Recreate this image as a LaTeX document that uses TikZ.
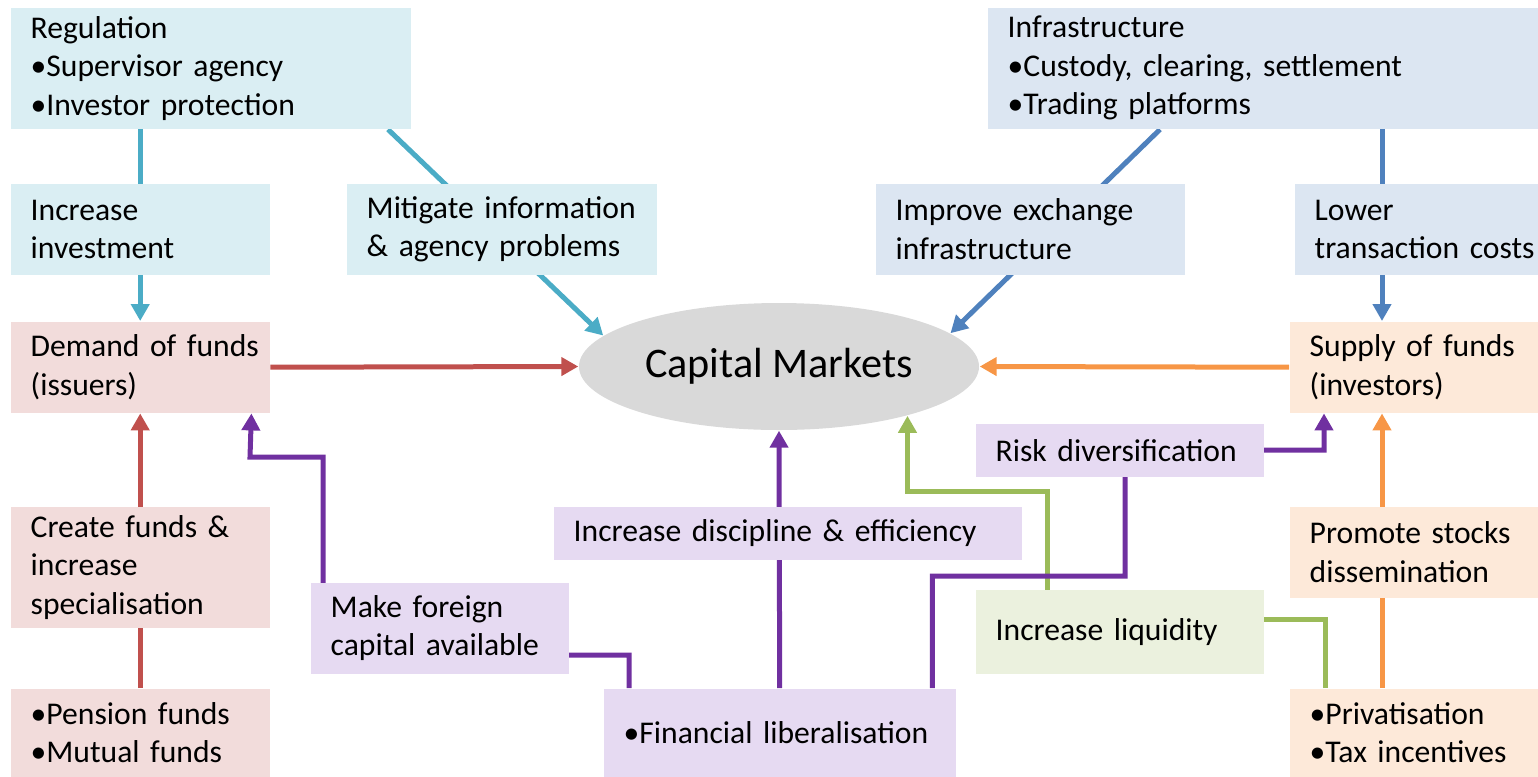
\documentclass[tikz,border=0pt]{standalone}
\usepackage{fontspec}
\setmainfont{Carlito}
\usetikzlibrary{arrows.meta,shapes.geometric,backgrounds}

\definecolor{regfill}{HTML}{DAEEF3}
\definecolor{regline}{HTML}{4BACC6}
\definecolor{inffill}{HTML}{DCE6F2}
\definecolor{infline}{HTML}{4F81BD}
\definecolor{demfill}{HTML}{F2DCDB}
\definecolor{demline}{HTML}{C0504D}
\definecolor{supfill}{HTML}{FDE9D9}
\definecolor{supline}{HTML}{F79646}
\definecolor{libfill}{HTML}{E6DAF2}
\definecolor{libline}{HTML}{7030A0}
\definecolor{liqfill}{HTML}{EBF1DE}
\definecolor{liqline}{HTML}{9BBB59}
\definecolor{cmfill}{HTML}{D9D9D9}

\tikzset{
  box/.style={anchor=north west, inner xsep=2mm, inner ysep=0pt, align=left, font=\fontsize{9}{10.95}\selectfont},
  link/.style={line width=0.5mm, -{Triangle[length=1.7mm,width=1.8mm]}},
}

\begin{document}
\begin{tikzpicture}
    \useasboundingbox (0,0) rectangle (15.38,-7.76);
    \node[ellipse, fill=cmfill, minimum width=4cm, minimum height=1.27cm, inner sep=0pt, font=\fontsize{12}{14}\selectfont] (cm) at (7.79,-3.665) {Capital Markets};
    % top row
    \node[box, fill=regfill, text width=3.60cm, minimum height=1.21cm] (reg) at (0.10,-0.07) {Regulation\\•Supervisor agency\\•Investor protection};
    \node[box, fill=inffill, text width=5.11cm, minimum height=1.21cm] (infra) at (9.87,-0.07) {Infrastructure\\•Custody, clearing, settlement\\•Trading platforms};
    \node[box, fill=regfill, text width=2.19cm, minimum height=0.91cm] (incinv) at (0.10,-1.83) {Increase\\investment};
    \node[box, fill=regfill, text width=2.70cm, minimum height=0.91cm] (mitig) at (3.46,-1.83) {Mitigate~information\\\&~agency~problems};
    \node[box, fill=inffill, text width=2.69cm, minimum height=0.91cm] (improve) at (8.75,-1.83) {Improve exchange\\infrastructure};
    \node[box, fill=inffill, text width=2.04cm, minimum height=0.91cm] (lower) at (12.94,-1.83) {Lower\\transaction~costs};
    % middle row
    \node[box, fill=demfill, text width=2.19cm, minimum height=0.91cm] (demand) at (0.10,-3.21) {Demand~of~funds\\(issuers)};
    \node[box, fill=supfill, text width=2.09cm, minimum height=0.91cm] (supply) at (12.89,-3.21) {Supply~of~funds\\(investors)};
    \node[box, fill=libfill, text width=2.48cm, minimum height=0.53cm] (risk) at (9.75,-4.23) {Risk~diversification};
    % lower rows
    \node[box, fill=demfill, text width=2.19cm, minimum height=1.21cm] (create) at (0.10,-5.06) {Create funds \&\\increase\\specialisation};
    \node[box, fill=libfill, text width=4.28cm, minimum height=0.53cm] (discip) at (5.53,-5.06) {Increase discipline \& efficiency};
    \node[box, fill=supfill, text width=2.09cm, minimum height=0.91cm] (promote) at (12.89,-5.06) {Promote~stocks\\dissemination};
    \node[box, fill=libfill, text width=2.18cm, minimum height=0.91cm] (foreign) at (3.10,-5.82) {Make foreign\\capital~available};
    \node[box, fill=liqfill, text width=2.48cm, minimum height=0.84cm] (liquid) at (9.75,-5.89) {Increase liquidity};
    \node[box, fill=demfill, text width=2.19cm, minimum height=0.88cm] (pension) at (0.10,-6.88) {•Pension funds\\•Mutual funds};
    \node[box, fill=libfill, text width=3.12cm, minimum height=0.88cm] (finlib) at (6.03,-6.88) {•Financial liberalisation};
    \node[box, fill=supfill, text width=2.09cm, minimum height=0.88cm] (privat) at (12.89,-6.88) {•Privatisation\\•Tax incentives};
    \coordinate (orx) at (13.82,0);

    \begin{scope}[on background layer]
        \draw[link, regline] (reg.south -| demand.north) -- (demand.north);
        \draw[link, regline] ([xshift=3.78cm]reg.south west) -- (cm.170);
        \draw[link, infline] ([xshift=1.73cm]infra.south west) -- (cm.11);
        \draw[link, infline] (infra.south -| orx) -- (supply.north -| orx);
        \draw[link, demline] (pension.north) -- (demand.south);
        \draw[link, demline] (demand.east) -- (cm.west);
        \draw[link, supline] (privat.north -| orx) -- (supply.south -| orx);
        \draw[link, supline] (supply.west) -- (cm.east);
        \draw[link, liqline] ([xshift=3.6mm]privat.north west) |- (10.47,-6.19) -- (10.47,-4.91) -| (cm.-21);
        \draw[link, libline] (finlib.north) -- (cm.south);
        \draw[link, libline] ([xshift=2.6mm]finlib.north west) |- (3.23,-6.55) |- (2.50,-4.57) -- ([xshift=-1.9mm]demand.south east);
        \draw[link, libline] ([xshift=-2.4mm]finlib.north east) |- (11.25,-5.76) |- (13.24,-4.50) -- ([xshift=3.5mm]supply.south west);
    \end{scope}
\end{tikzpicture}
\end{document}
